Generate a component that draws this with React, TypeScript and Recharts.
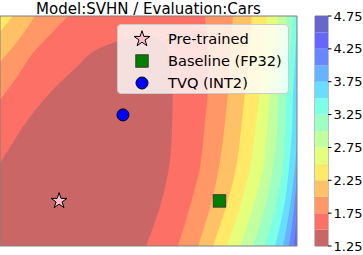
import { ComposedChart, BarChart, Bar, Area, Scatter, XAxis, YAxis, ReferenceArea } from 'recharts'

const FONT = '"DejaVu Sans", sans-serif'

// contour levels and the colour of each band (jet_r, alpha 0.6 on white)
const LEVELS = [1.25, 1.5, 1.75, 2.0, 2.25, 2.5, 2.75, 3.0, 3.25, 3.5, 3.75, 4.0, 4.25, 4.5, 4.75]
const BAND_COLORS = [
  '#cb6666', '#fd7066', '#ff9866', '#ffc166', '#ffe966', '#e5ff7b', '#c2ff9e',
  '#9effc2', '#7bffe5', '#66deff', '#66b3ff', '#6687ff', '#6666fd', '#6666cb',
]
const CBAR_TICKS = [1.25, 1.75, 2.25, 2.75, 3.25, 3.75, 4.25, 4.75]

// right-hand contour lines: x of each level at these heights (0 = bottom, 100 = top)
const ROW_Y = [100, 90, 80, 67, 50, 34, 20, 0]
const EDGE_450 = [100, 100, 100, 100, 100, 100, 100, 100]
const EDGE_425 = [100, 100, 100, 100, 100, 100, 100, 99.0]
const EDGE_400 = [100, 100, 100, 100, 100, 100, 99.3, 97.3]
const EDGE_375 = [100, 100, 100, 100, 100, 99.3, 98.0, 95.3]
const EDGE_350 = [100, 99.7, 99.3, 98.7, 98.3, 97.3, 96.0, 92.6]
const EDGE_325 = [98.7, 98.0, 97.3, 96.6, 96.0, 95.3, 93.3, 89.2]
const EDGE_300 = [96.6, 96.0, 94.9, 93.9, 93.3, 91.9, 89.9, 85.2]
const EDGE_275 = [93.6, 92.9, 91.9, 90.9, 89.9, 88.6, 85.9, 80.8]
const EDGE_250 = [89.9, 89.2, 88.6, 87.5, 85.9, 84.2, 81.5, 76.4]
const EDGE_225 = [84.8, 84.2, 83.5, 82.5, 81.1, 79.5, 76.8, 71.7]
const EDGE_200 = [78.5, 77.8, 77.4, 76.8, 75.4, 73.7, 71.4, 66.7]
const EDGE_175 = [69.0, 69.7, 70.4, 70.0, 68.7, 67.3, 64.6, 59.9]

// the low basin (1.25 - 1.5)
const BASIN_Y = [92.2, 90.9, 88.7, 84.3, 80, 67, 50, 34, 20, 0]
const BASIN_RIGHT = [47.1, 52.2, 54.9, 56.9, 57.6, 58.2, 57.9, 56.9, 54.5, 49.2]
const BASIN_LEFT_Y = [92.2, 90.9, 89.6, 86.1, 77.8, 66.5, 51.7, 43.0, 36.1]
const BASIN_LEFT = [47.1, 45.1, 41.1, 33.7, 25.9, 16.8, 7.7, 3.4, 0]

// top-left corner contour lines
const CORNER_175_Y = [100, 91.7, 83.9, 73.5, 63.5]
const CORNER_175 = [22.9, 16.8, 11.1, 5.7, 0]
const CORNER_200_Y = [100, 88.7, 80]
const CORNER_200 = [11.8, 5.7, 0]
const CORNER_225_Y = [100, 93.0]
const CORNER_225 = [4.4, 0]

const PRETRAINED = [{ x: 19.9, y: 19.6 }]
const BASELINE = [{ x: 73.9, y: 19.6 }]
const TVQ = [{ x: 41.4, y: 57.0 }]

const pts = (ys: number[], xs: number[]) => ys.map((y, i) => ({ y, x: xs[i] }))

// painted back to front
const layers = [
  { key: 'r450', data: pts(ROW_Y, EDGE_450), color: BAND_COLORS[12] },
  { key: 'r425', data: pts(ROW_Y, EDGE_425), color: BAND_COLORS[11] },
  { key: 'r400', data: pts(ROW_Y, EDGE_400), color: BAND_COLORS[10] },
  { key: 'r375', data: pts(ROW_Y, EDGE_375), color: BAND_COLORS[9] },
  { key: 'r350', data: pts(ROW_Y, EDGE_350), color: BAND_COLORS[8] },
  { key: 'r325', data: pts(ROW_Y, EDGE_325), color: BAND_COLORS[7] },
  { key: 'r300', data: pts(ROW_Y, EDGE_300), color: BAND_COLORS[6] },
  { key: 'r275', data: pts(ROW_Y, EDGE_275), color: BAND_COLORS[5] },
  { key: 'r250', data: pts(ROW_Y, EDGE_250), color: BAND_COLORS[4] },
  { key: 'r225', data: pts(ROW_Y, EDGE_225), color: BAND_COLORS[3] },
  { key: 'r200', data: pts(ROW_Y, EDGE_200), color: BAND_COLORS[2] },
  { key: 'r175', data: pts(ROW_Y, EDGE_175), color: BAND_COLORS[1] },
  { key: 'basin', data: pts(BASIN_Y, BASIN_RIGHT), color: BAND_COLORS[0] },
  { key: 'l150', data: pts(BASIN_LEFT_Y, BASIN_LEFT), color: BAND_COLORS[1] },
  { key: 'l175', data: pts(CORNER_175_Y, CORNER_175), color: BAND_COLORS[2] },
  { key: 'l200', data: pts(CORNER_200_Y, CORNER_200), color: BAND_COLORS[3] },
  { key: 'l225', data: pts(CORNER_225_Y, CORNER_225), color: BAND_COLORS[4] },
]

// colour bar: one stacked column, each segment one band (first segment clipped at 1.25)
const cbarRow: Record<string, number | string> = { name: 'cbar' }
BAND_COLORS.forEach((_, i) => {
  cbarRow['b' + i] = LEVELS[i + 1] - (i === 0 ? 0 : LEVELS[i])
})
const cbarData = [cbarRow]

function starPath(cx: number, cy: number, R: number) {
  const r = R * 0.382
  let d = ''
  for (let i = 0; i < 10; i++) {
    const rad = i % 2 === 0 ? R : r
    const a = -Math.PI / 2 + (i * Math.PI) / 5
    d += (i ? 'L' : 'M') + (cx + rad * Math.cos(a)).toFixed(2) + ',' + (cy + rad * Math.sin(a)).toFixed(2)
  }
  return d + 'Z'
}

const StarMark = ({ cx, cy }: any) => (
  <path d={starPath(cx, cy, 8.3)} fill="#ffc0cb" stroke="#000" strokeWidth={1} strokeLinejoin="miter" />
)
const SquareMark = ({ cx, cy }: any) => (
  <rect x={cx - 6.2} y={cy - 6.2} width={12.4} height={12.4} fill="#008000" stroke="#3a3a2a" strokeWidth={1} />
)
const CircleMark = ({ cx, cy }: any) => (
  <circle cx={cx} cy={cy} r={6} fill="#0000ff" stroke="#000" strokeWidth={1} />
)

const legendRows = [
  { label: 'Pre-trained', Mark: StarMark },
  { label: 'Baseline (FP32)', Mark: SquareMark },
  { label: 'TVQ (INT2)', Mark: CircleMark },
]

function LegendBox() {
  return (
    <div
      style={{
        position: 'absolute', left: 117, top: 24, width: 170, height: 68,
        background: 'rgba(255,255,255,0.8)', border: '1px solid #cccccc', borderRadius: 4,
        fontFamily: FONT, fontSize: 14.6, color: '#000',
      }}
    >
      {legendRows.map((row, i) => (
        <div key={row.label} style={{ position: 'absolute', left: 0, top: 3.3 + i * 21.7, height: 22, width: 170 }}>
          <svg width={30} height={22} style={{ position: 'absolute', left: 9, top: 0 }}>
            <row.Mark cx={15} cy={11} />
          </svg>
          <span style={{ position: 'absolute', left: 50, top: 0, lineHeight: '22px', whiteSpace: 'nowrap' }}>
            {row.label}
          </span>
        </div>
      ))}
    </div>
  )
}

export default function App() {
  return (
    <div style={{ position: 'absolute', left: 0, top: 0, width: 363, height: 255, background: '#fff' }}>
      <div
        style={{
          position: 'absolute', left: 0, top: 0, width: 297, textAlign: 'center',
          fontFamily: FONT, fontSize: 15, lineHeight: 'normal', color: '#000', whiteSpace: 'nowrap',
        }}
      >
        Model:SVHN / Evaluation:Cars
      </div>

      <div style={{ position: 'absolute', left: 0, top: 0 }}>
        <ComposedChart width={298} height={247} layout="vertical" margin={{ top: 16, right: 1, bottom: 1, left: 0 }}>
          <XAxis type="number" dataKey="x" domain={[0, 100]} hide allowDataOverflow />
          <YAxis type="number" dataKey="y" domain={[0, 100]} hide reversed allowDataOverflow />
          {layers.map((l) => (
            <Area
              key={l.key}
              data={l.data}
              dataKey="x"
              type="monotone"
              fill={l.color}
              fillOpacity={1}
              stroke="none"
              isAnimationActive={false}
            />
          ))}
          <ReferenceArea x1={0} x2={100} y1={0} y2={100} fill="none" stroke="#808080" strokeWidth={1} />
          <Scatter data={PRETRAINED} shape={<StarMark />} isAnimationActive={false} />
          <Scatter data={BASELINE} shape={<SquareMark />} isAnimationActive={false} />
          <Scatter data={TVQ} shape={<CircleMark />} isAnimationActive={false} />
        </ComposedChart>
      </div>

      <LegendBox />

      <div style={{ position: 'absolute', left: 300, top: 0 }}>
        <BarChart
          width={63}
          height={255}
          data={cbarData}
          barCategoryGap={0}
          barGap={0}
          margin={{ top: 16, right: 0, bottom: 9, left: 15 }}
        >
          <XAxis type="category" dataKey="name" hide />
          <YAxis
            type="number"
            orientation="right"
            domain={[1.25, 4.75]}
            allowDataOverflow
            ticks={CBAR_TICKS}
            interval={0}
            width={35}
            axisLine={false}
            tickLine={{ stroke: '#000' }}
            tickSize={3.5}
            tickMargin={2}
            tickFormatter={(v: number) => v.toFixed(2)}
            tick={{ fill: '#000', fontSize: 13, fontFamily: FONT }}
          />
          {BAND_COLORS.map((c, i) => (
            <Bar key={i} dataKey={'b' + i} stackId="cb" fill={c} isAnimationActive={false} />
          ))}
          <ReferenceArea y1={1.25} y2={4.75} fill="none" stroke="#808080" strokeWidth={1} />
        </BarChart>
      </div>
    </div>
  )
}
